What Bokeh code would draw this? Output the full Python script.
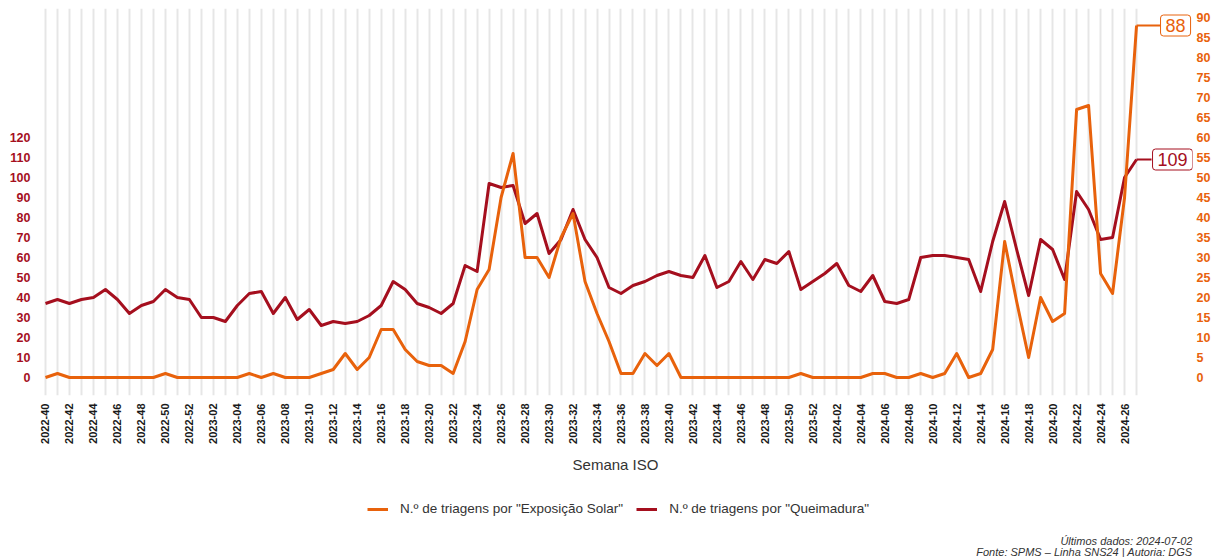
import numpy as np
from bokeh.plotting import figure
from bokeh.layouts import column
from bokeh.models import Range1d, LinearAxis, FixedTicker, Legend, LegendItem, Label
from bokeh.embed import file_html
from bokeh.resources import INLINE

# ---------------- data ----------------
weeks = ([f"2022-{w:02d}" for w in range(40, 53)]
         + [f"2023-{w:02d}" for w in range(1, 53)]
         + [f"2024-{w:02d}" for w in range(1, 28)])

exposicao_solar = [
    0, 1, 0, 0, 0, 0, 0, 0, 0, 0, 1, 0, 0, 0, 0, 0, 0, 1, 0, 1,
    0, 0, 0, 1, 2, 6, 2, 5, 12, 12, 7, 4, 3, 3, 1, 9, 22, 27, 45, 56,
    30, 30, 25, 35, 41, 24, 16, 9, 1, 1, 6, 3, 6, 0, 0, 0, 0, 0, 0, 0,
    0, 0, 0, 1, 0, 0, 0, 0, 0, 1, 1, 0, 0, 1, 0, 1, 6, 0, 1, 7,
    34, 19, 5, 20, 14, 16, 67, 68, 26, 21, 45, 88,
]

queimadura = [
    37, 39, 37, 39, 40, 44, 39, 32, 36, 38, 44, 40, 39, 30, 30, 28, 36, 42, 43, 32,
    40, 29, 34, 26, 28, 27, 28, 31, 36, 48, 44, 37, 35, 32, 37, 56, 53, 97, 95, 96,
    77, 82, 62, 69, 84, 69, 60, 45, 42, 46, 48, 51, 53, 51, 50, 61, 45, 48, 58, 49,
    59, 57, 63, 44, 48, 52, 57, 46, 43, 51, 38, 37, 39, 60, 61, 61, 60, 59, 43, 68,
    88, 64, 41, 69, 64, 49, 93, 84, 69, 70, 100, 109,
]

left_ticks = list(range(0, 121, 10))
right_ticks = list(range(0, 91, 5))

series_labels = ['N.º de triagens por "Exposição Solar"', 'N.º de triagens por "Queimadura"']
x_axis_title = "Semana ISO"
footer_lines = ["Últimos dados: 2024-07-02", "Fonte: SPMS – Linha SNS24 | Autoria: DGS"]

# ---------------- style ----------------
ORANGE = "#e8620c"
DARKRED = "#a50f1e"
FONT = "Liberation Sans"
W = 1213

x = list(range(len(weeks)))
last = x[-1]

p = figure(width=W, height=478, output_backend="svg", toolbar_location=None,
           x_range=Range1d(-0.583, 95.667), y_range=Range1d(-9, 184.5),
           min_border_left=38, min_border_right=20, min_border_top=8,
           min_border_bottom=83)
p.extra_y_ranges = {"right": Range1d(-4.5, 92.25)}
p.outline_line_color = None
p.background_fill_color = "white"
p.border_fill_color = "white"

p.ygrid.visible = False
p.xgrid.ticker = FixedTicker(ticks=x)
p.xgrid.grid_line_color = "#e6e6e6"
p.xgrid.grid_line_width = 2

# x axis
xa = p.xaxis[0]
xa.ticker = FixedTicker(ticks=x[::2])
xa.major_label_overrides = {i: weeks[i] for i in x[::2]}
xa.major_label_orientation = np.pi / 2
xa.axis_line_color = None
xa.major_tick_line_color = None
xa.major_tick_out = 0
xa.major_tick_in = 0
xa.minor_tick_line_color = None
xa.major_label_standoff = 8
xa.major_label_text_font = FONT
xa.major_label_text_font_size = "11px"
xa.major_label_text_font_style = "bold"
xa.major_label_text_color = "#1a1a1a"
xa.axis_label = x_axis_title
xa.axis_label_text_font = FONT
xa.axis_label_text_font_size = "15px"
xa.axis_label_text_font_style = "normal"
xa.axis_label_text_color = "#333333"
xa.axis_label_standoff = 9

# left axis
ya = p.yaxis[0]
ya.ticker = FixedTicker(ticks=left_ticks)
ya.axis_line_color = None
ya.major_tick_line_color = None
ya.major_tick_out = 0
ya.major_tick_in = 0
ya.minor_tick_line_color = None
ya.major_label_standoff = 8
ya.major_label_text_font = FONT
ya.major_label_text_font_size = "12.5px"
ya.major_label_text_font_style = "bold"
ya.major_label_text_color = DARKRED

# right axis
ra = LinearAxis(y_range_name="right", ticker=FixedTicker(ticks=right_ticks))
ra.axis_line_color = None
ra.major_tick_line_color = None
ra.major_tick_out = 0
ra.major_tick_in = 0
ra.minor_tick_line_color = None
ra.major_label_standoff = 4
ra.major_label_text_font = FONT
ra.major_label_text_font_size = "12.5px"
ra.major_label_text_font_style = "bold"
ra.major_label_text_color = ORANGE
p.add_layout(ra, "right")

# lines
r_q = p.line(x, queimadura, line_color=DARKRED, line_width=3, line_join="round")
r_e = p.line(x, exposicao_solar, y_range_name="right", line_color=ORANGE,
             line_width=3, line_join="round")

# end labels with connectors
p.ray(x=[last], y=[exposicao_solar[-1]], length=24, length_units="screen", angle=0,
      line_color=ORANGE, line_width=2, y_range_name="right")
p.ray(x=[last], y=[queimadura[-1]], length=15, length_units="screen", angle=0,
      line_color=DARKRED, line_width=2)

p.add_layout(Label(x=last, y=exposicao_solar[-1], y_range_name="right", x_offset=24,
                   text=str(exposicao_solar[-1]), text_align="left", text_baseline="middle",
                   text_color=ORANGE, text_font=FONT, text_font_size="18px",
                   border_line_color=ORANGE, border_line_width=1,
                   background_fill_color="white", padding=(5, 4), border_radius=3))
p.add_layout(Label(x=last, y=queimadura[-1], x_offset=16,
                   text=str(queimadura[-1]), text_align="left", text_baseline="middle",
                   text_color=DARKRED, text_font=FONT, text_font_size="18px",
                   border_line_color=DARKRED, border_line_width=1,
                   background_fill_color="white", padding=(5, 4), border_radius=3))

# ---------------- legend + footer strip ----------------
H2 = 79
f2 = figure(width=W, height=H2, output_backend="svg", toolbar_location=None,
            x_range=Range1d(0, W), y_range=Range1d(0, H2),
            x_axis_location=None, y_axis_location=None,
            min_border=0, min_border_left=0, min_border_right=0,
            min_border_top=0, min_border_bottom=0)
f2.grid.visible = False
f2.outline_line_color = None
f2.background_fill_color = "white"
f2.border_fill_color = "white"

# legend-only renderers (no visible data)
l_e = f2.line([np.nan], [np.nan], line_color=ORANGE, line_width=3)
l_q = f2.line([np.nan], [np.nan], line_color=DARKRED, line_width=3)

# f2's frame is aligned with the main plot's frame (left edge at 38 px)
legend = Legend(items=[LegendItem(label=series_labels[0], renderers=[l_e]),
                       LegendItem(label=series_labels[1], renderers=[l_q])],
                orientation="horizontal", location=(329, 41),
                label_text_font=FONT, label_text_font_size="13.5px",
                label_text_color="#333333",
                glyph_width=21, glyph_height=14, label_standoff=12, spacing=13,
                padding=4, margin=0, border_line_color=None,
                background_fill_alpha=0)
f2.add_layout(legend)

for k, t in enumerate(footer_lines):
    f2.add_layout(Label(x=1154, y=17 - 11 * k, x_units="screen", y_units="screen",
                        text=t, text_align="right", text_baseline="middle",
                        text_font=FONT, text_font_size="11px", text_font_style="italic",
                        text_color="#333333"))

layout = column(p, f2, spacing=0)
open("out.html", "w").write(file_html(layout, INLINE))
